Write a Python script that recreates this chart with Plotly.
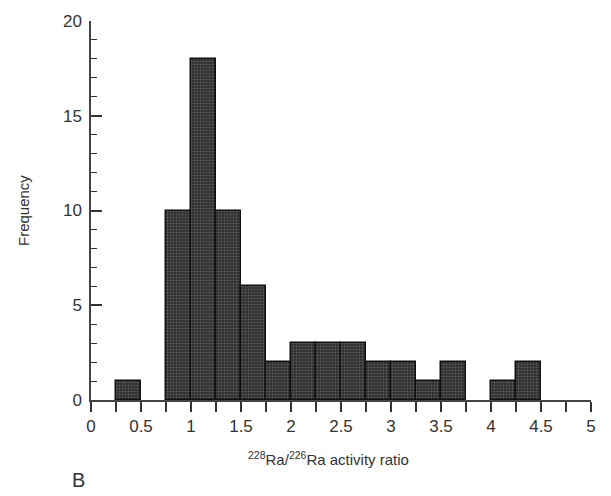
import plotly.graph_objects as go

bin_left = [0.25, 0.5, 0.75, 1.0, 1.25, 1.5, 1.75, 2.0, 2.25, 2.5, 2.75, 3.0, 3.25, 3.5, 3.75, 4.0, 4.25]
counts = [1, 0, 10, 18, 10, 6, 2, 3, 3, 3, 2, 2, 1, 2, 0, 1, 2]
bin_width = 0.25
y_tickvals = [0, 5, 10, 15, 20]

centers = [b + bin_width / 2 for b in bin_left]
edge_widths = [1.5 if c > 0 else 0 for c in counts]

fig = go.Figure()
fig.add_trace(go.Bar(
    x=centers, y=counts, width=bin_width,
    marker=dict(
        color="#3a3a3a",
        line=dict(color="#111", width=edge_widths),
        pattern=dict(shape=".", fgcolor="#8a8a8a", bgcolor="#2e2e2e", size=3, solidity=0.35),
    ),
    showlegend=False,
))

font_main = "Liberation Sans, Arial, sans-serif"
fig.update_layout(
    width=611, height=496,
    margin=dict(l=91, r=20, t=18, b=96),
    paper_bgcolor="white", plot_bgcolor="white",
    bargap=0,
    xaxis=dict(
        range=[0, 5], dtick=0.5, tick0=0,
        ticks="outside", ticklen=10, tickwidth=1.5, tickcolor="#333",
        minor=dict(dtick=0.25, ticks="outside", ticklen=10, tickwidth=1.5, tickcolor="#333"),
        showline=True, linecolor="#444", linewidth=1.5,
        showgrid=False, zeroline=False,
        tickfont=dict(family=font_main, size=17, color="#333"),
    ),
    yaxis=dict(
        range=[0, 20], tickvals=y_tickvals,
        ticks="inside", ticklen=11, tickwidth=1.5, tickcolor="#333",
        minor=dict(dtick=1, ticks="inside", ticklen=6, tickwidth=1.2, tickcolor="#333"),
        showline=True, linecolor="#444", linewidth=1.5,
        showgrid=False, zeroline=False,
        tickfont=dict(family=font_main, size=17, color="#333"),
        ticklabelstandoff=4,
    ),
    annotations=[
        dict(text="Frequency", xref="paper", yref="paper", x=-0.135, y=0.5,
             xanchor="center", yanchor="middle", textangle=-90, showarrow=False,
             font=dict(family=font_main, size=15, color="#333")),
        dict(text="<sup>228</sup>Ra/<sup>226</sup>Ra activity ratio", xref="x", yref="paper",
             x=2.37, y=-0.155, xanchor="center", yanchor="middle", showarrow=False,
             font=dict(family=font_main, size=15, color="#333")),
        dict(text="B", xref="paper", yref="paper", x=-0.026, y=-0.21,
             xanchor="center", yanchor="middle", showarrow=False,
             font=dict(family=font_main, size=20, color="#333")),
    ],
)

fig.write_html("out.html")
